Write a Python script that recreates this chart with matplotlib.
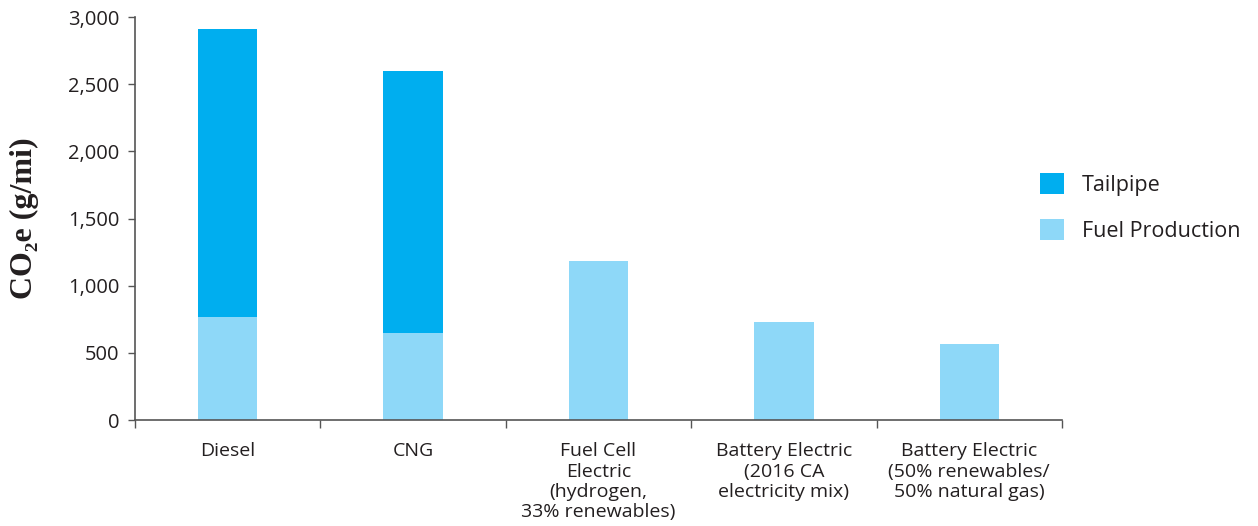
import matplotlib
matplotlib.use("Agg")
import matplotlib.pyplot as plt
from matplotlib.ticker import FuncFormatter, FixedLocator
import numpy as np

categories = ["Diesel", "CNG", "Fuel Cell\nElectric\n(hydrogen,\n33% renewables)",
              "Battery Electric\n(2016 CA\nelectricity mix)",
              "Battery Electric\n(50% renewables/\n50% natural gas)"]
fuel_production = [770, 650, 1183, 730, 566]
tailpipe = [2140, 1948, 0, 0, 0]
yticks = [0, 500, 1000, 1500, 2000, 2500, 3000]

c_tail = "#00AEEF"
c_fuel = "#8ED8F8"
txt = "#231F20"

plt.rcParams['font.family'] = ['Open Sans', 'DejaVu Sans']

fig = plt.figure(figsize=(12.58, 5.26), dpi=100)
ax = fig.add_axes([135/1258, 1-420/526, (1062-135)/1258, (420-17)/526])

x = np.arange(len(categories))
w = 0.32
ax.bar(x, fuel_production, width=w, color=c_fuel, label="Fuel Production", zorder=2)
ax.bar(x, tailpipe, width=w, bottom=fuel_production, color=c_tail, label="Tailpipe", zorder=2)

ax.set_xlim(-0.5, len(categories) - 0.5)
ax.set_ylim(0, 3000)
ax.set_yticks(yticks)
ax.yaxis.set_major_formatter(FuncFormatter(lambda v, p: f"{int(v):,}"))
ax.tick_params(axis='y', labelsize=14.5, length=5, width=1, colors="#555555", labelcolor=txt, pad=6)
for lab in ax.get_yticklabels():
    lab.set_fontweight('medium')

ax.xaxis.set_major_locator(FixedLocator(np.arange(len(categories) + 1) - 0.5))
ax.xaxis.set_major_formatter(FuncFormatter(lambda v, p: ""))
ax.xaxis.set_minor_locator(FixedLocator(x))
ax.set_xticklabels(categories, minor=True)
ax.tick_params(axis='x', which='major', length=6, width=1, colors="#555555")
ax.tick_params(axis='x', which='minor', length=0, labelsize=14, labelcolor=txt, pad=16)
for lab in ax.get_xticklabels(minor=True):
    lab.set_linespacing(1.17)
    lab.set_verticalalignment('top')
    lab.set_fontweight('medium')

for s in ['top', 'right']:
    ax.spines[s].set_visible(False)
for s in ['left', 'bottom']:
    ax.spines[s].set_color("#555555")
    ax.spines[s].set_linewidth(1.2)

ax.set_ylabel("CO₂e (g/mi)", fontsize=23, fontweight='bold',
              family=['Liberation Serif', 'DejaVu Serif'], color=txt)
ax.yaxis.set_label_coords(-0.104, 0.5)

handles, labels = ax.get_legend_handles_labels()
leg = fig.legend(handles[::-1], labels[::-1], loc='upper left',
                 bbox_to_anchor=(1021/1258, 1-154/526), frameon=False,
                 prop={'size': 15.5, 'weight': 'medium'}, handlelength=1.12, handleheight=1.12,
                 labelspacing=1.05, handletextpad=0.8, labelcolor=txt)

fig.savefig("out.png", dpi=100, facecolor="white")
